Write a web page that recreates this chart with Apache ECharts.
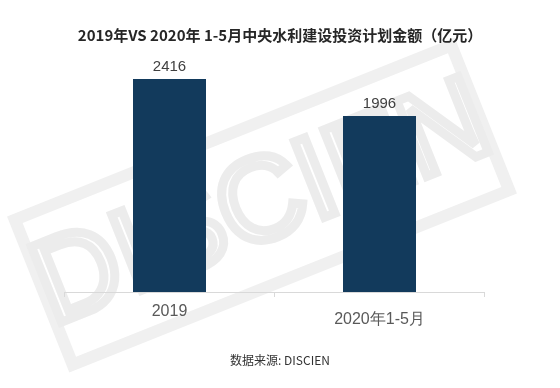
<!DOCTYPE html>
<html><head><meta charset="utf-8">
<script src="https://cdn.jsdelivr.net/npm/echarts@6/dist/echarts.min.js"></script>
<style>html,body{margin:0;padding:0;background:#fff}#c{width:560px;height:388px}</style>
</head><body><div id="c"></div>
<script>
const categories = ['2019', '2020年1-5月'];
const values = [2416, 1996];
const titleText = '2019年VS 2020年 1-5月中央水利建设投资计划金额（亿元）';
const sourceText = '数据来源: DISCIEN';

const chart = echarts.init(document.getElementById('c'));
chart.setOption({
  backgroundColor: '#fff',
  animation: false,
  title: {
    text: titleText, left: 'center', top: 23,
    textStyle: {fontFamily: 'Noto Sans CJK SC', fontSize: 15, fontWeight: 'bold', color: '#262626'}
  },
  graphic: [
    {type: 'text', left: 'center', top: 354, z: 10,
     style: {text: sourceText, fontFamily: 'Noto Sans CJK SC', fontSize: 12, fill: '#333'}},
    {type: 'group', x: 262, y: 205, rotation: 0.38, z: -10, silent: true, children: [
      {type: 'rect', shape: {x: -235, y: -78, width: 470, height: 156}, style: {fill: 'none', stroke: '#f0f0f0', lineWidth: 12}},
      {type: 'text', style: {text: 'DISCIEN', x: 0, y: 2, align: 'center', verticalAlign: 'middle',
        fontFamily: 'Liberation Sans', fontSize: 118, fill: 'none', stroke: '#ececec', lineWidth: 9}}
    ]}
  ],
  grid: {left: 64.5, right: 75.5, top: 71.5, bottom: 96},
  xAxis: {
    type: 'category', data: categories.map((c, i) => i === 1 ? {value: c, textStyle: {padding: [8, 0, 0, 0]}} : c),
    axisLine: {lineStyle: {color: '#d9d9d9'}},
    axisTick: {show: true, lineStyle: {color: '#d9d9d9'}, length: 5},
    axisLabel: {margin: 12, fontFamily: 'Liberation Sans', fontSize: 16, color: '#595959'}
  },
  yAxis: {type: 'value', min: 0, max: 2500, show: false, splitLine: {show: false}},
  series: [{
    type: 'bar', data: values, barWidth: 73, itemStyle: {color: '#123a5c'},
    label: {show: true, position: 'top', distance: 5, fontFamily: 'Liberation Sans', fontSize: 15, color: '#404040'}
  }]
});
</script></body></html>
